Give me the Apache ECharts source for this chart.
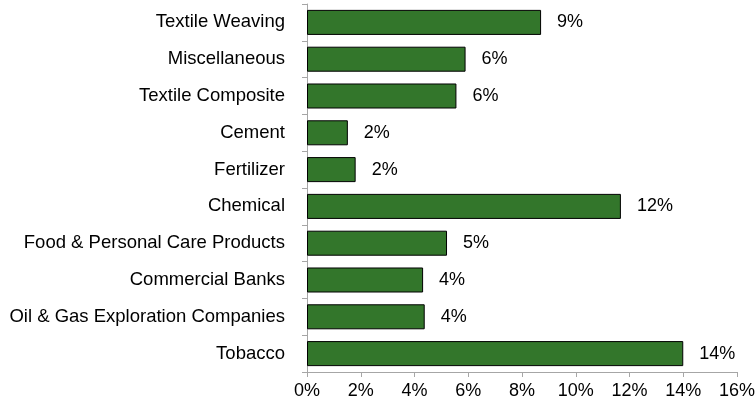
<!DOCTYPE html>
<html>
<head>
<meta charset="utf-8">
<script src="https://cdn.jsdelivr.net/npm/echarts@6/dist/echarts.min.js"></script>
<style>
  html, body { margin: 0; padding: 0; background: #fff; }
  #chart { width: 755px; height: 406px; }
</style>
</head>
<body>
<div id="chart"></div>
<script>
// Sector weights (%), listed bottom-to-top as drawn on the category axis
const sectors = [
  'Tobacco',
  'Oil & Gas Exploration Companies',
  'Commercial Banks',
  'Food & Personal Care Products',
  'Chemical',
  'Fertilizer',
  'Cement',
  'Textile Composite',
  'Miscellaneous',
  'Textile Weaving'
];
const weights = [14.0, 4.38, 4.32, 5.21, 11.68, 1.81, 1.52, 5.56, 5.90, 8.71];
const xTicks = [0, 2, 4, 6, 8, 10, 12, 14, 16];

const font = 'Arial, "Liberation Sans", Helvetica, sans-serif';
const axisGray = '#a6a6a6';

const chart = echarts.init(document.getElementById('chart'), null, { renderer: 'canvas' });
chart.setOption({
  animation: false,
  grid: {
    left: 307, right: 18, top: 4, bottom: 34,
    containLabel: false,
    outerBoundsMode: 'none'
  },
  xAxis: {
    type: 'value',
    min: xTicks[0],
    max: xTicks[xTicks.length - 1],
    interval: 2,
    axisLine: { show: true, lineStyle: { color: axisGray, width: 1 } },
    axisTick: { show: true, length: 5, lineStyle: { color: axisGray } },
    splitLine: { show: false },
    axisLabel: {
      color: '#000', fontFamily: font, fontSize: 18, margin: 10,
      formatter: v => v + '%'
    }
  },
  yAxis: {
    type: 'category',
    data: sectors,
    axisLine: { show: true, lineStyle: { color: axisGray, width: 1 } },
    axisTick: { show: true, length: 5, lineStyle: { color: axisGray } },
    axisLabel: { color: '#000', fontFamily: font, fontSize: 18.5, margin: 22 }
  },
  series: [{
    type: 'bar',
    data: weights,
    barCategoryGap: '32%',
    itemStyle: { color: '#33762b', borderColor: '#000', borderWidth: 1 },
    label: {
      show: true,
      position: 'right',
      distance: 16,
      color: '#000',
      fontFamily: font,
      fontSize: 18,
      formatter: p => Math.round(p.value) + '%'
    }
  }]
});
</script>
</body>
</html>
